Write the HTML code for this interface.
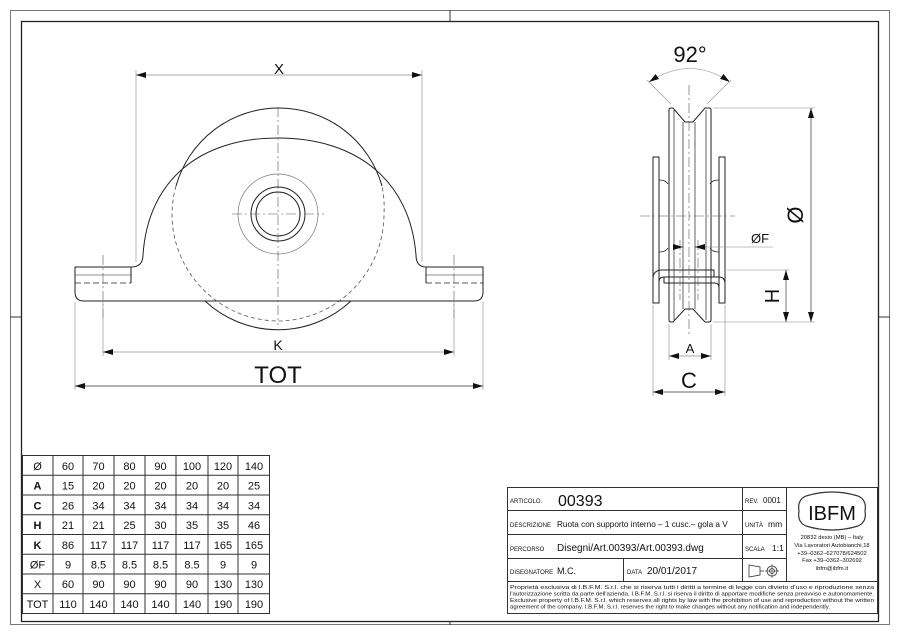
<!DOCTYPE html>
<html><head><meta charset="utf-8"><style>
html,body{margin:0;padding:0;background:#fff}
svg{display:block}
text{font-family:"Liberation Sans",sans-serif;fill:#111}
</style></head><body>
<svg width="900" height="635" viewBox="0 0 900 635" xmlns="http://www.w3.org/2000/svg">
<defs>
<marker id="ar" viewBox="0 0 10 6" refX="10" refY="3" markerWidth="10" markerHeight="6" orient="auto-start-reverse" markerUnits="userSpaceOnUse"><path d="M0,0 L10,3 L0,6z" fill="#111"/></marker>
</defs>
<g fill="none" stroke="#333" stroke-width="1">
<rect x="10.5" y="10.5" width="879" height="614" stroke="#777"/>
<rect x="21.5" y="21.5" width="857" height="600" stroke="#222" stroke-width="1.3"/>
<line x1="450" y1="10" x2="450" y2="21"/><line x1="450" y1="622" x2="450" y2="625"/>
<line x1="10" y1="317" x2="21" y2="317"/><line x1="879" y1="317" x2="890" y2="317"/>
</g>

<g fill="none" stroke="#222" stroke-width="1">
<line x1="136" y1="70" x2="136" y2="262" stroke="#888" stroke-width="0.6"/>
<line x1="422" y1="70" x2="422" y2="262" stroke="#888" stroke-width="0.6"/>
<line x1="136" y1="75" x2="422" y2="75" stroke="#555" stroke-width="0.6" marker-start="url(#ar)" marker-end="url(#ar)"/>
<path d="M176,186 A107,107 0 0 1 382,186"/>
<path d="M176,186 A107,107 0 0 0 172,214 A107,107 0 0 0 278,321 A107,107 0 0 0 384,214 A107,107 0 0 0 382,186" stroke-dasharray="4,3" stroke="#555" stroke-width="0.8"/>
<path d="M205,301 A107,107 0 0 0 351,301"/>
<path d="M131,267 Q143,267 143,255 C148,180 200,138 278,138 C356,138 410,180 416,255 Q416,267 426,267"/>
<path d="M131,267 L75,267 L75,292 Q75,301 84,301 L474,301 Q483,301 483,292 L483,267 L426,267"/>
<line x1="131" y1="267" x2="131" y2="283"/>
<line x1="426" y1="267" x2="426" y2="283"/>
<line x1="75" y1="283" x2="131" y2="283" stroke-dasharray="6,3" stroke-width="0.8"/>
<line x1="426" y1="283" x2="483" y2="283" stroke-dasharray="6,3" stroke-width="0.8"/>
<line x1="75" y1="275" x2="131" y2="275" stroke-width="0.6"/>
<line x1="426" y1="275" x2="483" y2="275" stroke-width="0.6"/>
<circle cx="278" cy="214" r="40" stroke="#777" stroke-width="0.7"/>
<circle cx="278" cy="214" r="27"/>
<circle cx="278" cy="214" r="22"/>
<g stroke="#555" stroke-width="0.6" stroke-dasharray="10,3,2,3">
<line x1="278" y1="107" x2="278" y2="325"/>
<line x1="232" y1="214" x2="324" y2="214"/>
<line x1="103" y1="255" x2="103" y2="318"/>
<line x1="454" y1="255" x2="454" y2="318"/>
</g>
<line x1="103" y1="300" x2="103" y2="356" stroke="#888" stroke-width="0.6"/>
<line x1="454" y1="300" x2="454" y2="356" stroke="#888" stroke-width="0.6"/>
<line x1="103" y1="352" x2="454" y2="352" stroke="#555" stroke-width="0.6" marker-start="url(#ar)" marker-end="url(#ar)"/>
<line x1="75" y1="302" x2="75" y2="390" stroke="#888" stroke-width="0.6"/>
<line x1="483" y1="302" x2="483" y2="390" stroke="#888" stroke-width="0.6"/>
<line x1="75" y1="386" x2="483" y2="386" stroke="#333" stroke-width="0.8" marker-start="url(#ar)" marker-end="url(#ar)"/>
</g>
<text x="279" y="74" font-size="15" text-anchor="middle">X</text>
<text x="278" y="350" font-size="14" text-anchor="middle">K</text>
<text x="278" y="383" font-size="24" text-anchor="middle">TOT</text>

<g fill="none" stroke="#222" stroke-width="1">
<path d="M649,82 Q690,55 730,82" stroke="#888" stroke-width="0.6" marker-start="url(#ar)" marker-end="url(#ar)"/>
<line x1="647" y1="80" x2="671" y2="104" stroke="#999" stroke-width="0.6"/>
<line x1="731" y1="80" x2="707" y2="104" stroke="#999" stroke-width="0.6"/>
<path d="M669,110 Q669,108 671,108 L673,108 L685,122 L693,122 L705,108 L709,108 Q711,108 711,110 L711,320 Q711,322 709,322 L705,322 L693,309 L685,309 L673,322 L671,322 Q669,322 669,320 Z"/>
<line x1="674" y1="110" x2="674" y2="320" stroke-width="0.7"/>
<line x1="706" y1="110" x2="706" y2="320" stroke-width="0.7"/>
<line x1="683" y1="122" x2="683" y2="309" stroke-width="0.7"/>
<line x1="695" y1="122" x2="695" y2="309" stroke-width="0.7"/>
<rect x="653" y="157" width="6" height="146"/>
<rect x="719" y="157" width="6" height="146"/>
<path d="M659,180 Q666,180 668,184 M659,252 Q666,252 668,248 M719,180 Q712,180 710,184 M719,252 Q712,252 710,248" stroke-width="0.8"/>
<path d="M653,303 L653,279 Q653,270 662,270 L714,270 L714,277 L664,277 Q659,277 659,282"/>
<path d="M664,277 L664,283 L715,283 Q719,283 719,288 L719,303 M714,277 L719,277 Q725,277 725,284 L725,303"/>
<g stroke="#555" stroke-width="0.6" stroke-dasharray="10,3,2,3">
<line x1="689" y1="85" x2="689" y2="335"/>
<line x1="640" y1="216" x2="735" y2="216"/>
<line x1="680" y1="240" x2="680" y2="300"/>
<line x1="698" y1="240" x2="698" y2="300"/>
</g>
<g stroke="#888" stroke-width="0.6">
<line x1="713" y1="108" x2="815" y2="108"/>
<line x1="713" y1="322" x2="815" y2="322"/>
<line x1="727" y1="270" x2="790" y2="270"/>
<line x1="698" y1="247" x2="773" y2="247"/>
<line x1="669" y1="324" x2="669" y2="360"/>
<line x1="711" y1="324" x2="711" y2="360"/>
<line x1="653" y1="305" x2="653" y2="396"/>
<line x1="725" y1="305" x2="725" y2="396"/>
</g>
<line x1="811" y1="108" x2="811" y2="322" stroke="#333" stroke-width="0.7" marker-start="url(#ar)" marker-end="url(#ar)"/>
<line x1="786" y1="270" x2="786" y2="322" stroke="#333" stroke-width="0.7" marker-start="url(#ar)" marker-end="url(#ar)"/>
<line x1="669" y1="356" x2="711" y2="356" stroke="#555" stroke-width="0.6" marker-start="url(#ar)" marker-end="url(#ar)"/>
<line x1="653" y1="392" x2="725" y2="392" stroke="#333" stroke-width="0.8" marker-start="url(#ar)" marker-end="url(#ar)"/>
<line x1="676" y1="247" x2="683" y2="247" stroke="#333" stroke-width="0.7" marker-end="url(#ar)"/>
<line x1="702" y1="247" x2="695" y2="247" stroke="#333" stroke-width="0.7" marker-end="url(#ar)"/>
</g>
<text x="690" y="62" font-size="22" text-anchor="middle">92°</text>
<text x="760" y="243" font-size="13" text-anchor="middle">ØF</text>
<text x="690" y="353" font-size="13" text-anchor="middle">A</text>
<text x="689" y="388" font-size="22" text-anchor="middle">C</text>
<text transform="translate(803,215) rotate(-90)" font-size="22" text-anchor="middle">Ø</text>
<text transform="translate(779,296) rotate(-90)" font-size="20" text-anchor="middle">H</text>

<g stroke="#333" stroke-width="1" fill="none">
<rect x="22.5" y="455.5" width="247" height="158"/>
<line x1="53" y1="455" x2="53" y2="613"/><line x1="83" y1="455" x2="83" y2="613"/>
<line x1="114" y1="455" x2="114" y2="613"/><line x1="145" y1="455" x2="145" y2="613"/>
<line x1="176" y1="455" x2="176" y2="613"/><line x1="208" y1="455" x2="208" y2="613"/>
<line x1="238" y1="455" x2="238" y2="613"/>
<line x1="22" y1="475.25" x2="270" y2="475.25"/><line x1="22" y1="495" x2="270" y2="495"/>
<line x1="22" y1="514.75" x2="270" y2="514.75"/><line x1="22" y1="534.5" x2="270" y2="534.5"/>
<line x1="22" y1="554.25" x2="270" y2="554.25"/><line x1="22" y1="574" x2="270" y2="574"/>
<line x1="22" y1="593.75" x2="270" y2="593.75"/>
</g>
<g font-size="11" text-anchor="middle">
<text x="37.5" y="470">Ø</text><text x="68" y="470">60</text><text x="98.5" y="470">70</text><text x="129.5" y="470">80</text><text x="160.5" y="470">90</text><text x="192" y="470">100</text><text x="223" y="470">120</text><text x="254" y="470">140</text>
<text x="37.5" y="489.5" font-weight="bold">A</text><text x="68" y="489.5">15</text><text x="98.5" y="489.5">20</text><text x="129.5" y="489.5">20</text><text x="160.5" y="489.5">20</text><text x="192" y="489.5">20</text><text x="223" y="489.5">20</text><text x="254" y="489.5">25</text>
<text x="37.5" y="509.5" font-weight="bold">C</text><text x="68" y="509.5">26</text><text x="98.5" y="509.5">34</text><text x="129.5" y="509.5">34</text><text x="160.5" y="509.5">34</text><text x="192" y="509.5">34</text><text x="223" y="509.5">34</text><text x="254" y="509.5">34</text>
<text x="37.5" y="529" font-weight="bold">H</text><text x="68" y="529">21</text><text x="98.5" y="529">21</text><text x="129.5" y="529">25</text><text x="160.5" y="529">30</text><text x="192" y="529">35</text><text x="223" y="529">35</text><text x="254" y="529">46</text>
<text x="37.5" y="549" font-weight="bold">K</text><text x="68" y="549">86</text><text x="98.5" y="549">117</text><text x="129.5" y="549">117</text><text x="160.5" y="549">117</text><text x="192" y="549">117</text><text x="223" y="549">165</text><text x="254" y="549">165</text>
<text x="37.5" y="568.5">ØF</text><text x="68" y="568.5">9</text><text x="98.5" y="568.5">8.5</text><text x="129.5" y="568.5">8.5</text><text x="160.5" y="568.5">8.5</text><text x="192" y="568.5">8.5</text><text x="223" y="568.5">9</text><text x="254" y="568.5">9</text>
<text x="37.5" y="588">X</text><text x="68" y="588">60</text><text x="98.5" y="588">90</text><text x="129.5" y="588">90</text><text x="160.5" y="588">90</text><text x="192" y="588">90</text><text x="223" y="588">130</text><text x="254" y="588">130</text>
<text x="37.5" y="608">TOT</text><text x="68" y="608">110</text><text x="98.5" y="608">140</text><text x="129.5" y="608">140</text><text x="160.5" y="608">140</text><text x="192" y="608">140</text><text x="223" y="608">190</text><text x="254" y="608">190</text>
</g>

<g stroke="#333" stroke-width="1" fill="none">
<rect x="507.5" y="487.5" width="370" height="126"/>
<line x1="507" y1="510.5" x2="786" y2="510.5"/>
<line x1="507" y1="534.5" x2="786" y2="534.5"/>
<line x1="507" y1="558.5" x2="786" y2="558.5"/>
<line x1="507" y1="581.5" x2="878" y2="581.5"/>
<line x1="742.5" y1="487" x2="742.5" y2="581"/>
<line x1="786.5" y1="487" x2="786.5" y2="581"/>
<line x1="623.5" y1="558" x2="623.5" y2="581"/>
<path d="M806,496 Q832,488 858,496 Q867,500 865,511 Q867,522 858,526 Q832,534 806,526 Q797,522 799,511 Q797,500 806,496 Z" stroke-width="1.2"/>
<path d="M749,565 L760,567 L760,575 L749,577 Z" stroke-width="0.8"/>
<line x1="760" y1="571" x2="764" y2="571" stroke-width="0.8"/>
<circle cx="772" cy="571" r="5" stroke-width="0.8"/><circle cx="772" cy="571" r="2.5" stroke-width="0.8"/>
<line x1="765" y1="571" x2="779" y2="571" stroke-width="0.6"/><line x1="772" y1="564" x2="772" y2="578" stroke-width="0.6"/>
</g>
<g font-size="6">
<text x="510" y="503">ARTICOLO.</text>
<text x="558" y="506" font-size="16" fill="#555">00393</text>
<text x="745" y="503">REV.</text><text x="763" y="503" font-size="8">0001</text>
<text x="510" y="527">DESCRIZIONE</text>
<text x="557" y="527" font-size="8.2">Ruota con supporto interno – 1 cusc.– gola a V</text>
<text x="745" y="527">UNITÀ</text><text x="768" y="527" font-size="8.5">mm</text>
<text x="510" y="551">PERCORSO</text>
<text x="557" y="551" font-size="10">Disegni/Art.00393/Art.00393.dwg</text>
<text x="745" y="551">SCALA</text><text x="772" y="551" font-size="8.5">1:1</text>
<text x="510" y="574">DISEGNATORE</text><text x="557" y="574" font-size="9">M.C.</text>
<text x="627" y="574">DATA</text><text x="647" y="574" font-size="10">20/01/2017</text>
<text x="832" y="520" font-size="20" text-anchor="middle" fill="#333" font-family="Liberation Serif">IBFM</text>
<g font-size="5.8" text-anchor="middle">
<text x="832" y="539">20832 desio (MB) – Italy</text>
<text x="832" y="547">Via Lavoratori Autobianchi,18</text>
<text x="832" y="555">+39–0362–627078/624502</text>
<text x="832" y="562">Fax +39–0362–302692</text>
<text x="832" y="570">ibfm@ibfm.it</text>
</g>
<g font-size="5.6">
<text x="510" y="589" textLength="364" lengthAdjust="spacingAndGlyphs">Proprietà esclusiva di I.B.F.M. S.r.l. che si riserva tutti i diritti a termine di legge con divieto d'uso e riproduzione senza</text>
<text x="510" y="595.5" textLength="364" lengthAdjust="spacingAndGlyphs">l'autorizzazione scritta da parte dell'azienda. I.B.F.M. S.r.l. si riserva il diritto di apportare modifiche senza preavviso e autonomamente.</text>
<text x="510" y="602" textLength="364" lengthAdjust="spacingAndGlyphs">Exclusive property of I.B.F.M. S.r.l. which reserves all rights by law with the prohibition of use and reproduction without the written</text>
<text x="510" y="608.5" textLength="320" lengthAdjust="spacingAndGlyphs">agreement of the company. I.B.F.M. S.r.l. reserves the right to make changes without any notification and independently.</text>
</g>
</g>
</svg>
</body></html>
